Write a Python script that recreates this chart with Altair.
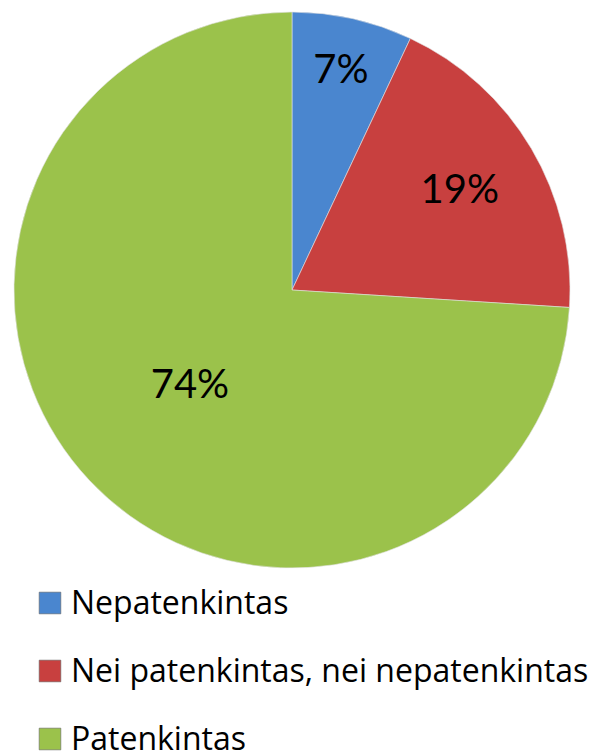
import altair as alt
import pandas as pd

categories = ["Nepatenkintas", "Nei patenkintas, nei nepatenkintas", "Patenkintas"]
values = [7, 19, 74]
labels = ["7%", "19%", "74%"]
colors = ["#4a86cf", "#c8403f", "#9bc24b"]

# layout-only: label distance from centre per slice
label_radius = [224, 195, 140]

df = pd.DataFrame({
    "cat": categories,
    "val": values,
    "lab": labels,
    "ord": list(range(len(categories))),
    "lr": label_radius,
})

cx, cy, R = 284, 282, 278

color_scale = alt.Scale(domain=categories, range=colors)

base = alt.Chart(df)

pie = base.mark_arc(outerRadius=R, stroke="#e0e0e0", strokeWidth=0.6).encode(
    theta=alt.Theta("val:Q", stack=True, scale=alt.Scale(domain=[0, 100])),
    color=alt.Color("cat:N", scale=color_scale, legend=None),
    order=alt.Order("ord:Q"),
    x=alt.value(cx),
    y=alt.value(cy),
)

pie_text = base.transform_window(
    cum="sum(val)", sort=[alt.SortField("ord")]
).transform_calculate(
    mid="datum.cum - datum.val / 2"
).mark_text(font="Lato", fontSize=40, color="black",
            align="center", baseline="middle").encode(
    theta=alt.Theta("mid:Q", stack=None, scale=alt.Scale(domain=[0, 100])),
    radius=alt.Radius("lr:Q", scale=None),
    text="lab:N",
    x=alt.value(cx),
    y=alt.value(cy),
)

leg_y = alt.Y("cat:N", sort=categories, axis=None,
              scale=alt.Scale(domain=categories, range=[595, 731], padding=0))

leg_sq = base.mark_square(size=470, stroke="#666666", strokeWidth=0.6, opacity=1).encode(
    x=alt.value(42),
    y=leg_y,
    color=alt.Color("cat:N", scale=color_scale, legend=None),
)

leg_txt = base.mark_text(font="Open Sans", fontSize=32, color="black",
                         align="left", baseline="middle", dy=1).encode(
    x=alt.value(63),
    y=leg_y,
    text="cat:N",
)

chart = alt.layer(pie, pie_text, leg_sq, leg_txt).properties(
    width=580, height=744,
    autosize=alt.AutoSizeParams(type="none"),
    padding=0,
).configure_view(stroke=None)

chart.save("out.html", embed_options={"renderer": "svg", "actions": False})
